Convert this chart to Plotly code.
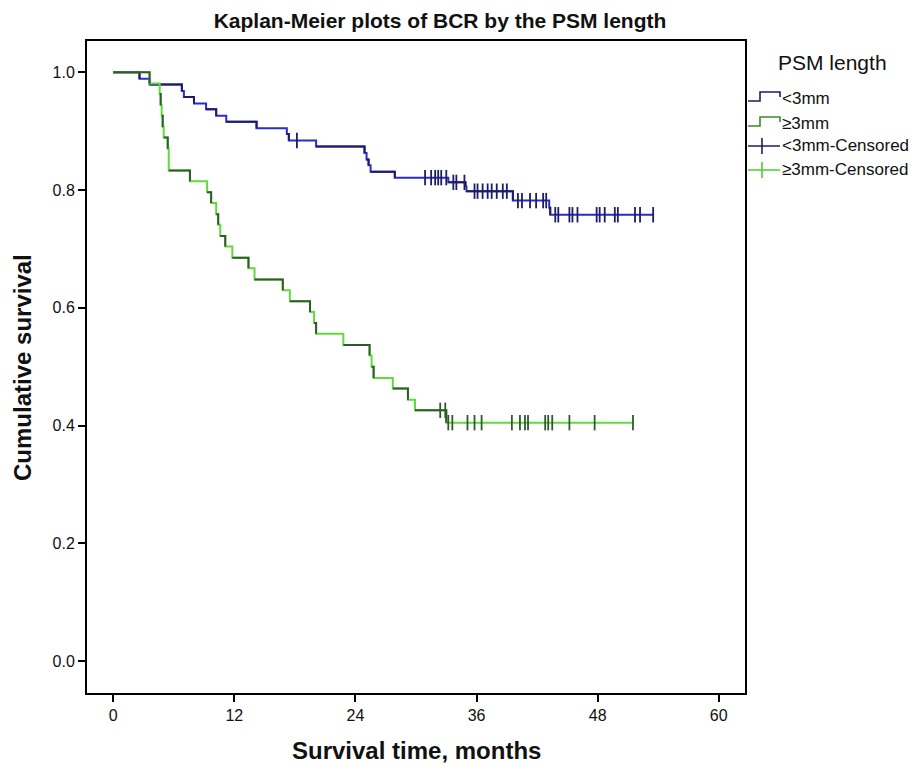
import plotly.graph_objects as go

# Kaplan-Meier estimates (months, cumulative survival)
t_lt3 = [0, 2.6, 3.6, 6.8, 7.0, 8.0, 9.2, 10.2, 11.2, 14.2, 17.2, 17.4, 20.1,
         24.9, 25.1, 25.3, 25.5, 27.9, 33.2, 34.9, 35.0, 39.6, 43.2, 43.3, 53.5]
s_lt3 = [1.0, 0.989, 0.979, 0.968, 0.958, 0.947, 0.937, 0.926, 0.916, 0.905, 0.895, 0.884, 0.874,
         0.863, 0.852, 0.842, 0.831, 0.821, 0.813, 0.806, 0.798, 0.782, 0.770, 0.758, 0.758]

t_ge3 = [0, 3.6, 4.6, 4.7, 4.8, 4.9, 5.0, 5.4, 5.5, 7.6, 9.3, 9.7, 10.2, 10.4, 10.6,
         11.1, 11.8, 13.4, 14.0, 16.8, 17.5, 19.5, 19.9, 20.1, 22.8, 25.4, 25.6, 25.8,
         27.7, 29.2, 29.9, 33.0, 51.5]
s_ge3 = [1.0, 0.981, 0.963, 0.944, 0.926, 0.907, 0.889, 0.870, 0.833, 0.815, 0.796, 0.778, 0.759, 0.741, 0.722,
         0.704, 0.685, 0.667, 0.648, 0.630, 0.611, 0.593, 0.574, 0.556, 0.537, 0.519, 0.500, 0.481,
         0.463, 0.444, 0.426, 0.405, 0.405]

# censored observations
c_lt3_t = [18.2, 30.9, 31.5, 31.9, 32.2, 32.5, 33.0, 33.7, 34.0, 34.8,
           35.8, 36.1, 36.6, 37.1, 37.5, 38.0, 38.6, 39.0,
           40.1, 40.5, 41.3, 41.9, 42.6, 42.9,
           43.8, 44.1, 45.2, 45.5, 46.0, 47.9, 48.2, 48.7, 49.7, 50.0, 51.7, 52.2, 53.5]
c_ge3_t = [32.4, 32.9, 33.2, 33.6, 35.1, 35.8, 36.5, 39.5, 40.3, 40.8, 41.1,
           42.8, 43.1, 43.5, 45.2, 47.7, 51.5]

x_ticks = [0, 12, 24, 36, 48, 60]
y_ticks = [0.0, 0.2, 0.4, 0.6, 0.8, 1.0]

NAVY, BLUE = "#1d1d66", "#2b2bd0"
DKGREEN, LTGREEN = "#2f5a2c", "#5fdc3c"


def surv_at(ts, ss, t):
    v = ss[0]
    for ti, si in zip(ts, ss):
        if ti <= t:
            v = si
    return v


def alt_segments(ts, ss):
    # every other step drawn in the darker shade, as in the original rendering
    xs, ys = [], []
    for i in range(len(ts) - 1):
        if i % 2 == 0:
            xs += [ts[i], ts[i + 1], ts[i + 1], None]
            ys += [ss[i], ss[i], ss[i + 1], None]
    return xs, ys


fig = go.Figure()

for ts, ss, light, dark in [(t_lt3, s_lt3, BLUE, NAVY), (t_ge3, s_ge3, LTGREEN, DKGREEN)]:
    fig.add_trace(go.Scatter(x=ts, y=ss, mode="lines", line=dict(color=light, width=2, shape="hv"),
                             showlegend=False, hoverinfo="skip"))
    ax, ay = alt_segments(ts, ss)
    fig.add_trace(go.Scatter(x=ax, y=ay, mode="lines", line=dict(color=dark, width=2),
                             showlegend=False, hoverinfo="skip"))

fig.add_trace(go.Scatter(x=c_lt3_t, y=[surv_at(t_lt3, s_lt3, t) for t in c_lt3_t], mode="markers",
                         marker=dict(symbol="line-ns", size=11, line=dict(color=NAVY, width=1.8)),
                         showlegend=False))
fig.add_trace(go.Scatter(x=c_ge3_t, y=[surv_at(t_ge3, s_ge3, t) for t in c_ge3_t], mode="markers",
                         marker=dict(symbol="line-ns", size=11, line=dict(color=DKGREEN, width=1.8)),
                         showlegend=False))

# page pixels of the plot box (screenshot has an 8px page margin)
OFF = 8
L, R, T, B = 87 - OFF, 745 - OFF, 41 - OFF, 693 - OFF


def px(xp, yp):
    # screenshot pixel -> paper coordinates
    return (xp - OFF - L) / (R - L), (B - (yp - OFF)) / (B - T)


def path(points):
    s = ""
    for i, (a, b) in enumerate(points):
        xa, yb = px(a, b)
        s += ("M" if i == 0 else "L") + f"{xa:.4f},{yb:.4f} "
    return s


shapes = []
# legend icons (step symbols and censor ticks)
shapes.append(dict(type="path", xref="paper", yref="paper",
                   path=path([(748, 101), (760, 101), (760, 92), (780, 92), (780, 97)]),
                   line=dict(color=NAVY, width=1.6)))
shapes.append(dict(type="path", xref="paper", yref="paper",
                   path=path([(748, 126), (760, 126), (760, 117), (780, 117), (780, 122)]),
                   line=dict(color="#3b8a2c", width=1.6)))
for yy, col in [(146, NAVY), (170, "#4ccc30")]:
    shapes.append(dict(type="path", xref="paper", yref="paper",
                       path=path([(748, yy), (780, yy)]), line=dict(color=col, width=1.6)))
    shapes.append(dict(type="path", xref="paper", yref="paper",
                       path=path([(762, yy - 8), (762, yy + 8)]), line=dict(color=col, width=1.6)))

annotations = []
lx, ly = px(833, 62)
annotations.append(dict(text="PSM length", x=lx, y=ly, xref="paper", yref="paper", showarrow=False,
                        font=dict(size=21, color="#111"), xanchor="center", yanchor="middle"))
for label, yy in [("<3mm", 98), ("≥3mm", 123), ("<3mm-Censored", 146), ("≥3mm-Censored", 170)]:
    ax_, ay_ = px(780, yy)
    annotations.append(dict(text=label, x=ax_, y=ay_, xref="paper", yref="paper", showarrow=False,
                            font=dict(size=17, color="#111"), xanchor="left", yanchor="middle"))

tx, ty = px(416, 750)
annotations.append(dict(text="<b>Survival time, months</b>", x=tx, y=ty, xref="paper", yref="paper",
                        showarrow=False, font=dict(size=24, color="#111"),
                        xanchor="center", yanchor="middle"))
tx, ty = px(22, 368)
annotations.append(dict(text="<b>Cumulative survival</b>", x=tx, y=ty, xref="paper", yref="paper",
                        showarrow=False, font=dict(size=24, color="#111"), textangle=-90,
                        xanchor="center", yanchor="middle"))

fig.update_layout(
    width=922, height=770,
    margin=dict(l=L, r=922 - R, t=T, b=770 - B),
    paper_bgcolor="white", plot_bgcolor="white",
    font=dict(family="Liberation Sans, Arial", color="#111"),
    title=dict(text="<b>Kaplan-Meier plots of BCR by the PSM length</b>",
               font=dict(family="Liberation Sans, Arial", size=21, color="#111"),
               xref="container", yref="container", x=(440 - OFF) / 922, y=1 - (21 - OFF) / 770,
               xanchor="center", yanchor="middle"),
    xaxis=dict(range=[-2.6, 62.6], tickvals=x_ticks, ticks="outside", ticklen=7, tickwidth=2,
               tickcolor="black", showline=True, linecolor="black", linewidth=2, mirror=True,
               showgrid=False, zeroline=False, tickfont=dict(size=16)),
    yaxis=dict(range=[-0.054, 1.053], tickvals=y_ticks, tickformat=".1f", ticks="outside",
               ticklen=7, tickwidth=2, tickcolor="black", showline=True, linecolor="black",
               linewidth=2, mirror=True, showgrid=False, zeroline=False, tickfont=dict(size=16)),
    shapes=shapes,
    annotations=annotations,
    showlegend=False,
)

fig.write_html("out.html")
